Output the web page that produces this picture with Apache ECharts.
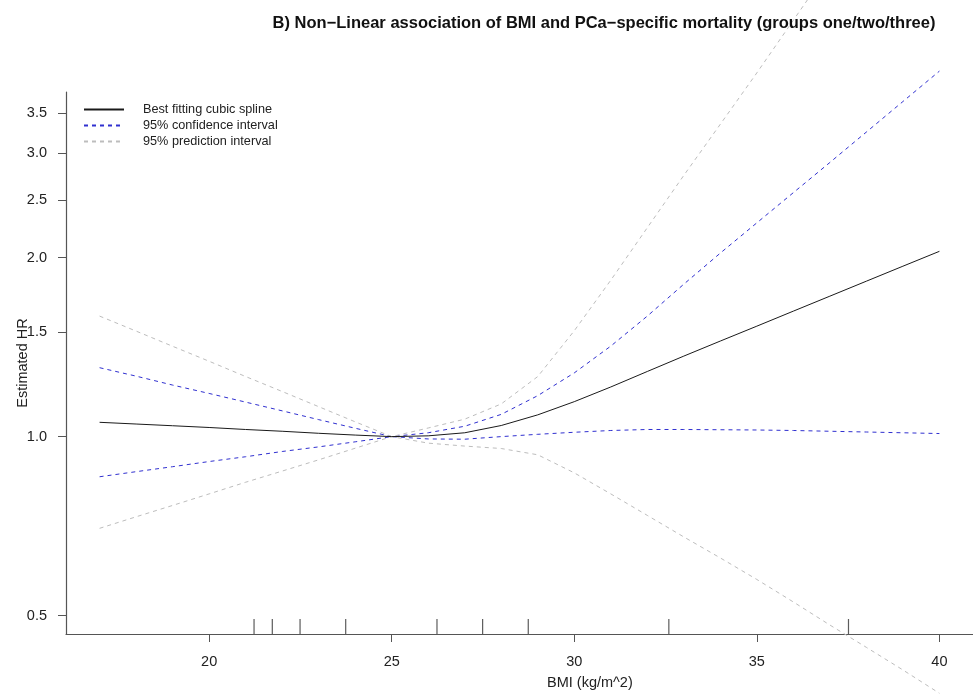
<!DOCTYPE html>
<html>
<head>
<meta charset="utf-8">
<script src="https://cdn.jsdelivr.net/npm/echarts@6/dist/echarts.min.js"></script>
<style>
  html, body { margin: 0; padding: 0; background: #fff; }
  #myChart { width: 973px; height: 694px; }
</style>
</head>
<body>
<div id="myChart"></div>
<script>
// BMI grid and estimated hazard ratios
const bmi = [17, 18, 19, 20, 21, 22, 23, 24, 25, 26, 27, 28, 29, 30, 31, 32, 33, 34, 35, 36, 37, 38, 39, 40];
const fitHR = [1.057, 1.050, 1.043, 1.036, 1.028, 1.021, 1.013, 1.006, 1.000, 1.003, 1.015, 1.044, 1.088, 1.145, 1.212, 1.287, 1.366, 1.448, 1.534, 1.626, 1.723, 1.826, 1.935, 2.050];
const ciHigh = [1.306, 1.264, 1.221, 1.182, 1.143, 1.105, 1.068, 1.033, 1.000, 1.015, 1.041, 1.090, 1.172, 1.280, 1.420, 1.595, 1.805, 2.036, 2.289, 2.573, 2.892, 3.254, 3.662, 4.120];
const ciLow = [0.856, 0.873, 0.890, 0.908, 0.925, 0.944, 0.961, 0.980, 1.000, 0.991, 0.990, 1.000, 1.009, 1.017, 1.024, 1.028, 1.028, 1.027, 1.026, 1.024, 1.021, 1.018, 1.015, 1.012];
const piHigh = [1.595, 1.505, 1.419, 1.339, 1.262, 1.191, 1.123, 1.059, 1.000, 1.034, 1.070, 1.135, 1.262, 1.507, 1.833, 2.246, 2.751, 3.354, 4.092, 5.018, 6.154, 7.547, 9.253, 11.35];
const piLow = [0.701, 0.733, 0.766, 0.801, 0.838, 0.875, 0.914, 0.956, 1.000, 0.975, 0.964, 0.955, 0.932, 0.869, 0.801, 0.737, 0.678, 0.625, 0.575, 0.527, 0.482, 0.442, 0.405, 0.370];
// rug of knot positions along the x axis
const rug = [21.23, 21.73, 22.49, 23.74, 26.24, 27.49, 28.74, 32.59, 37.51];
// axis ticks
const xTicks = [20, 25, 30, 35, 40];
const yTicks = [0.5, 1.0, 1.5, 2.0, 2.5, 3.0, 3.5];

const font = "'Liberation Sans', Arial, sans-serif";
const yMin = Math.log(0.4655);
const yMax = Math.log(3.80);

// log-scale HR axis: plot ln(HR)
const toPts = (arr) => bmi.map((x, i) => [x, Math.log(arr[i])]);

const lineSeries = (name, arr, color, dashed) => ({
  name: name,
  type: "line",
  data: toPts(arr),
  symbol: "none",
  clip: false,
  silent: true,
  lineStyle: { color: color, width: 1, type: dashed ? [4, 4] : "solid" },
  itemStyle: { color: color },
  z: dashed ? 2 : 3,
});

const myChart = echarts.init(document.getElementById("myChart"));
myChart.setOption({
  animation: false,
  backgroundColor: "#fff",
  title: {
    text: "B) Non\u2212Linear association of BMI and PCa\u2212specific mortality (groups one/two/three)",
    left: 599,
    top: 10,
    textAlign: "center",
    textStyle: { fontFamily: font, fontSize: 16.5, fontWeight: "bold", color: "#111" },
  },
  legend: {
    orient: "vertical",
    left: 83,
    top: 103,
    padding: 0,
    itemWidth: 40,
    itemHeight: 14,
    itemGap: 3,
    itemStyle: { opacity: 0 },
    data: ["Best fitting cubic spline", "95% confidence interval", "95% prediction interval"],
    textStyle: { fontFamily: font, fontSize: 12.7, color: "#222", padding: [0, 0, 0, 14] },
  },
  grid: { left: 66, right: 0, top: 92, bottom: 60, outerBoundsMode: "none", containLabel: false },
  xAxis: {
    type: "value",
    min: 16.08,
    max: 40.92,
    axisLine: { show: true, onZero: false, lineStyle: { color: "#555", width: 1.2 } },
    axisTick: { show: true, inside: false, length: 8, customValues: xTicks, lineStyle: { color: "#555" } },
    axisLabel: { customValues: xTicks, margin: 20, fontFamily: font, fontSize: 14.5, color: "#222" },
    splitLine: { show: false },
  },
  yAxis: {
    type: "value",
    min: yMin,
    max: yMax,
    name: "Estimated HR",
    nameLocation: "middle",
    nameRotate: 90,
    nameGap: 36,
    nameMoveOverlap: false,
    nameTextStyle: { fontFamily: font, fontSize: 14.5, color: "#222" },
    axisLine: { show: true, onZero: false, lineStyle: { color: "#555", width: 1.2 } },
    axisTick: { show: true, inside: false, length: 8, customValues: yTicks.map(Math.log), lineStyle: { color: "#555" } },
    axisLabel: {
      customValues: yTicks.map(Math.log),
      margin: 19,
      fontFamily: font,
      fontSize: 14.5,
      color: "#222",
      formatter: (v) => Math.exp(v).toFixed(1),
    },
    splitLine: { show: false },
  },
  graphic: [
    {
      type: "text",
      left: 547,
      top: 675,
      style: { text: "BMI (kg/m^2)", fontFamily: font, fontSize: 14.5, fill: "#222", textAlign: "center" },
    },
  ],
  series: [
    lineSeries("Best fitting cubic spline", fitHR, "#1a1a1a", false),
    lineSeries("95% confidence interval", ciHigh, "#3030d0", true),
    lineSeries("95% confidence interval", ciLow, "#3030d0", true),
    lineSeries("95% prediction interval", piHigh, "#bdbdbd", true),
    lineSeries("95% prediction interval", piLow, "#bdbdbd", true),
    {
      type: "scatter",
      data: rug.map((x) => [x, yMin]),
      symbol: "rect",
      symbolSize: [1.2, 15],
      symbolOffset: [0, -7.5],
      itemStyle: { color: "#333" },
      clip: false,
      silent: true,
      z: 4,
    },
  ],
});
</script>
</body>
</html>
